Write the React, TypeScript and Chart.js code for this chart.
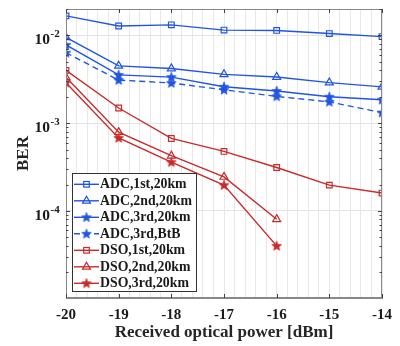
import React, { useEffect, useRef } from 'react';
import { Chart, registerables } from 'chart.js';
Chart.register(...registerables);

const powers = [-20, -19, -18, -17, -16, -15, -14];
const adc1st = [1.67e-2, 1.28e-2, 1.32e-2, 1.15e-2, 1.14e-2, 1.05e-2, 0.97e-2];
const adc2nd = [9.5e-3, 4.5e-3, 4.2e-3, 3.6e-3, 3.36e-3, 2.9e-3, 2.59e-3];
const adc3rd = [7.8e-3, 3.55e-3, 3.35e-3, 2.6e-3, 2.33e-3, 2.0e-3, 1.85e-3];
const adc3rdBtB = [6.35e-3, 3.1e-3, 2.87e-3, 2.4e-3, 2.02e-3, 1.75e-3, 1.32e-3];
const dso1st = [4.0e-3, 1.49e-3, 6.7e-4, 4.77e-4, 3.13e-4, 1.97e-4, 1.6e-4];
const dso2nd = [3.33e-3, 7.9e-4, 4.26e-4, 2.44e-4, 8.05e-5];
const dso3rd = [2.9e-3, 6.8e-4, 3.6e-4, 1.97e-4, 4.0e-5];
const yTickExps = [-2, -3, -4];
const seriesLabels = [
  'ADC,1st,20km',
  'ADC,2nd,20km',
  'ADC,3rd,20km',
  'ADC,3rd,BtB',
  'DSO,1st,20km',
  'DSO,2nd,20km',
  'DSO,3rd,20km',
];
const xTitle = 'Received optical power [dBm]';
const yTitle = 'BER';

const BLUE = '#1f55e0';
const RED = '#c92a2a';
const FONT = "'Liberation Serif', 'Times New Roman', serif";

function makeStar(color: string): HTMLCanvasElement {
  const c = document.createElement('canvas');
  c.width = 12;
  c.height = 12;
  const g = c.getContext('2d')!;
  const cx = 6, cy = 6.3, ro = 5, ri = 2.1;
  g.beginPath();
  for (let i = 0; i < 10; i++) {
    const r = i % 2 === 0 ? ro : ri;
    const a = -Math.PI / 2 + (i * Math.PI) / 5;
    const px = cx + r * Math.cos(a);
    const py = cy + r * Math.sin(a);
    if (i === 0) g.moveTo(px, py);
    else g.lineTo(px, py);
  }
  g.closePath();
  g.fillStyle = color;
  g.fill();
  g.strokeStyle = color;
  g.lineWidth = 0.8;
  g.stroke();
  return c;
}

function pts(vals: number[]) {
  return vals.map((v, i) => ({ x: powers[i], y: v }));
}

export default function App() {
  const ref = useRef<HTMLCanvasElement>(null);
  useEffect(() => {
    const canvas = ref.current!;
    const blueStar = makeStar(BLUE);
    const redStar = makeStar(RED);
    const styles: any[] = [
      { color: BLUE, marker: 'rect', dash: [] },
      { color: BLUE, marker: 'triangle', dash: [] },
      { color: BLUE, marker: blueStar, dash: [] },
      { color: BLUE, marker: blueStar, dash: [6, 4] },
      { color: RED, marker: 'rect', dash: [] },
      { color: RED, marker: 'triangle', dash: [] },
      { color: RED, marker: redStar, dash: [] },
    ];
    const allData = [adc1st, adc2nd, adc3rd, adc3rdBtB, dso1st, dso2nd, dso3rd];
    const datasets = allData.map((d, i) => ({
      label: seriesLabels[i],
      data: pts(d),
      borderColor: styles[i].color,
      backgroundColor: 'rgba(0,0,0,0)',
      borderWidth: 1.4,
      borderDash: styles[i].dash,
      pointStyle: styles[i].marker,
      pointRadius: styles[i].marker === 'triangle' ? 4.6 : 4,
      pointBorderColor: styles[i].color,
      pointBackgroundColor: 'rgba(0,0,0,0)',
      pointBorderWidth: 1.2,
      tension: 0,
    }));

    const decor = {
      id: 'decor',
      afterDatasetsDraw(chart: any) {
        const ctx = chart.ctx;
        const { left, right, top, bottom } = chart.chartArea;
        const xs = chart.scales.x;
        const ys = chart.scales.y;
        ctx.save();
        // box
        ctx.strokeStyle = '#888';
        ctx.lineWidth = 1;
        ctx.strokeRect(left + 0.5, top + 0.5, right - left - 1, bottom - top - 1);
        // x major ticks
        ctx.strokeStyle = '#444';
        ctx.beginPath();
        for (const p of powers) {
          const x = Math.round(xs.getPixelForValue(p)) + 0.5;
          ctx.moveTo(x, bottom);
          ctx.lineTo(x, bottom - 4);
          ctx.moveTo(x, top);
          ctx.lineTo(x, top + 4);
        }
        // y ticks
        for (let d = -5; d <= -2; d++) {
          for (let k = 1; k <= 9; k++) {
            const v = k * Math.pow(10, d);
            if (v < ys.min || v > ys.max) continue;
            const y = Math.round(ys.getPixelForValue(v)) + 0.5;
            const len = k === 1 ? 4 : 2.5;
            ctx.moveTo(left, y);
            ctx.lineTo(left + len, y);
            ctx.moveTo(right, y);
            ctx.lineTo(right - len, y);
          }
        }
        ctx.stroke();
        // y tick labels 10^e
        ctx.fillStyle = '#1a1a1a';
        ctx.textAlign = 'left';
        ctx.textBaseline = 'alphabetic';
        for (const e of yTickExps) {
          const y = ys.getPixelForValue(Math.pow(10, e));
          ctx.font = `bold 15.5px ${FONT}`;
          ctx.fillText('10', 34.5, y + 9);
          ctx.font = `bold 11px ${FONT}`;
          ctx.fillText(String(e), 50.5, y + 2);
        }
        // legend
        const lx = 72, ly = 173, lw = 124, lh = 118;
        ctx.fillStyle = '#fff';
        ctx.fillRect(lx, ly, lw, lh);
        ctx.strokeStyle = '#333';
        ctx.lineWidth = 1;
        ctx.strokeRect(lx + 0.5, ly + 0.5, lw, lh);
        chart.data.datasets.forEach((ds: any, i: number) => {
          const cy = 184.3 + i * 16.5;
          ctx.save();
          ctx.strokeStyle = ds.borderColor;
          ctx.lineWidth = 1.4;
          ctx.setLineDash(ds.borderDash || []);
          ctx.beginPath();
          ctx.moveTo(74, cy);
          ctx.lineTo(99, cy);
          ctx.stroke();
          ctx.setLineDash([]);
          const mx = 86.5;
          ctx.lineWidth = 1.2;
          if (ds.pointStyle === 'rect') {
            ctx.strokeRect(mx - 2.8, cy - 2.8, 5.6, 5.6);
          } else if (ds.pointStyle === 'triangle') {
            const r = 4.6;
            ctx.beginPath();
            ctx.moveTo(mx, cy - r);
            ctx.lineTo(mx + r * 0.866, cy + r / 2);
            ctx.lineTo(mx - r * 0.866, cy + r / 2);
            ctx.closePath();
            ctx.stroke();
          } else {
            const im = ds.pointStyle as HTMLCanvasElement;
            ctx.drawImage(im, mx - im.width / 2, cy - im.height / 2);
          }
          ctx.restore();
          ctx.fillStyle = '#1a1a1a';
          ctx.font = `bold 13.8px ${FONT}`;
          ctx.textAlign = 'left';
          ctx.textBaseline = 'middle';
          ctx.fillText(ds.label, 100, cy + 0.5);
        });
        ctx.restore();
      },
    };

    const chart = new Chart(canvas, {
      type: 'line',
      data: { datasets: datasets as any },
      options: {
        animation: false,
        responsive: false,
        devicePixelRatio: 1,
        layout: { padding: { left: 0, top: 9, right: 14, bottom: 0 } },
        plugins: { legend: { display: false }, tooltip: { enabled: false } },
        scales: {
          x: {
            type: 'linear',
            min: -20,
            max: -14,
            afterBuildTicks: (s: any) => {
              const t = [];
              for (let i = 0; i <= 30; i++) t.push({ value: Math.round((-20 + i * 0.2) * 10) / 10 });
              s.ticks = t;
            },
            afterFit: (s: any) => {
              s.height = 48;
            },
            ticks: {
              autoSkip: false,
              maxRotation: 0,
              padding: 8,
              color: '#1a1a1a',
              font: { family: FONT, weight: 'bold', size: 15 },
              callback: (v: any) => (Number.isInteger(v) ? String(v) : ''),
            },
            grid: { color: '#e8e8e8', drawTicks: false, lineWidth: 1 },
            border: { display: true, color: '#888' },
            title: {
              display: true,
              text: xTitle,
              color: '#262626',
              font: { family: FONT, weight: 'bold', size: 17 },
              padding: { top: 0, bottom: 3 },
            },
          },
          y: {
            type: 'logarithmic',
            min: 1.02e-5,
            max: 0.02,
            afterBuildTicks: (s: any) => {
              s.ticks = yTickExps.map((e) => ({ value: Math.pow(10, e) }));
            },
            afterFit: (s: any) => {
              s.width = 66;
            },
            ticks: { display: false },
            grid: { color: '#e3e3e3', drawTicks: false, lineWidth: 1 },
            border: { display: true, color: '#888' },
            title: {
              display: true,
              text: yTitle,
              color: '#262626',
              font: { family: FONT, weight: 'bold', size: 17 },
              padding: { top: 13.5, bottom: 0 },
            },
          },
        },
      },
      plugins: [decor],
    } as any);
    return () => chart.destroy();
  }, []);
  return (
    <div style={{ position: 'absolute', left: 0, top: 0, width: 400, height: 346, background: '#fff' }}>
      <canvas ref={ref} width={400} height={346} style={{ display: 'block' }} />
    </div>
  );
}
